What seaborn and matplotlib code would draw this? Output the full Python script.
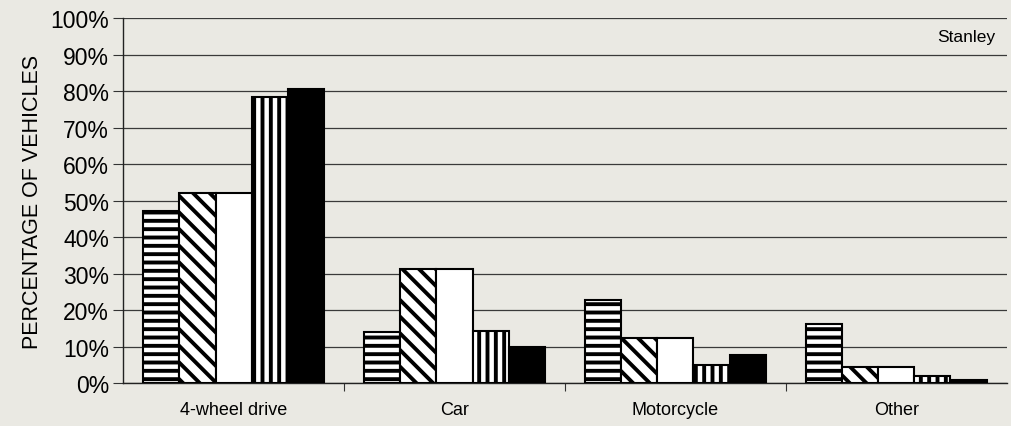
import matplotlib
matplotlib.use('Agg')
import matplotlib.pyplot as plt
import seaborn as sns
import pandas as pd
from matplotlib.ticker import PercentFormatter, FixedLocator

categories = ['4-wheel drive', 'Car', 'Motorcycle', 'Other']
series = ['S1', 'S2', 'S3', 'S4', 'S5']
values = {
    'S1': [47, 14, 22.7, 16.2],
    'S2': [52, 31.2, 12.3, 4.4],
    'S3': [52, 31.2, 12.3, 4.4],
    'S4': [78.3, 14.3, 5.0, 2.0],
    'S5': [80.5, 10.0, 7.7, 0.8],
}
hatches = ['--', '\\\\', '', '||', '']
fills = ['white', 'white', 'white', 'white', 'black']

rows = []
for s in series:
    for c, v in zip(categories, values[s]):
        rows.append({'category': c, 'series': s, 'value': v})
df = pd.DataFrame(rows)

sns.set_theme(style='white')
plt.rcParams['font.family'] = ['Liberation Sans', 'DejaVu Sans']
plt.rcParams['hatch.linewidth'] = 2.8
plt.rcParams['hatch.color'] = 'black'
plt.rcParams['text.color'] = 'black'
plt.rcParams['xtick.color'] = 'black'
plt.rcParams['ytick.color'] = 'black'
plt.rcParams['axes.labelcolor'] = 'black'

bg = '#eae9e3'
fig = plt.figure(figsize=(10.11, 4.27), dpi=100, facecolor=bg)
ax = fig.add_axes([0.1217, 0.1007, 0.8743, 0.8548])
ax.set_facecolor(bg)

sns.barplot(data=df, x='category', y='value', hue='series', order=categories,
            hue_order=series, width=0.815, ax=ax, legend=False,
            palette=fills, saturation=1, zorder=3)

for cont, h, f in zip(ax.containers, hatches, fills):
    for bar in cont:
        bar.set_facecolor(f)
        bar.set_edgecolor('black')
        bar.set_linewidth(1.5)
        bar.set_hatch(h)

ax.set_ylim(0, 100)
ax.set_xlim(-0.5, 3.5)
ax.yaxis.set_major_locator(FixedLocator(range(0, 101, 10)))
ax.yaxis.set_major_formatter(PercentFormatter(decimals=0))
ax.grid(axis='y', color='#3a3a3a', linewidth=0.9, zorder=0)
ax.set_axisbelow(True)

ax.xaxis.set_minor_locator(FixedLocator([0.5, 1.5, 2.5]))
ax.tick_params(axis='x', which='major', length=0, labelsize=13, pad=13)
ax.tick_params(axis='x', which='minor', length=6, width=0.8, color='#333333', bottom=True)
ax.tick_params(axis='y', length=7, width=0.8, color='#333333', labelsize=16.5, left=True, pad=3)

for side in ['top', 'right']:
    ax.spines[side].set_visible(False)
for side in ['left', 'bottom']:
    ax.spines[side].set_color('#222222')
    ax.spines[side].set_linewidth(1.0)

ax.set_xlabel('')
ax.set_ylabel('PERCENTAGE OF VEHICLES', fontsize=15.5, labelpad=5)
ax.text(0.987, 0.95, 'Stanley', transform=ax.transAxes, ha='right', va='center', fontsize=12.5)

fig.savefig('out.png', dpi=100, facecolor=bg)
